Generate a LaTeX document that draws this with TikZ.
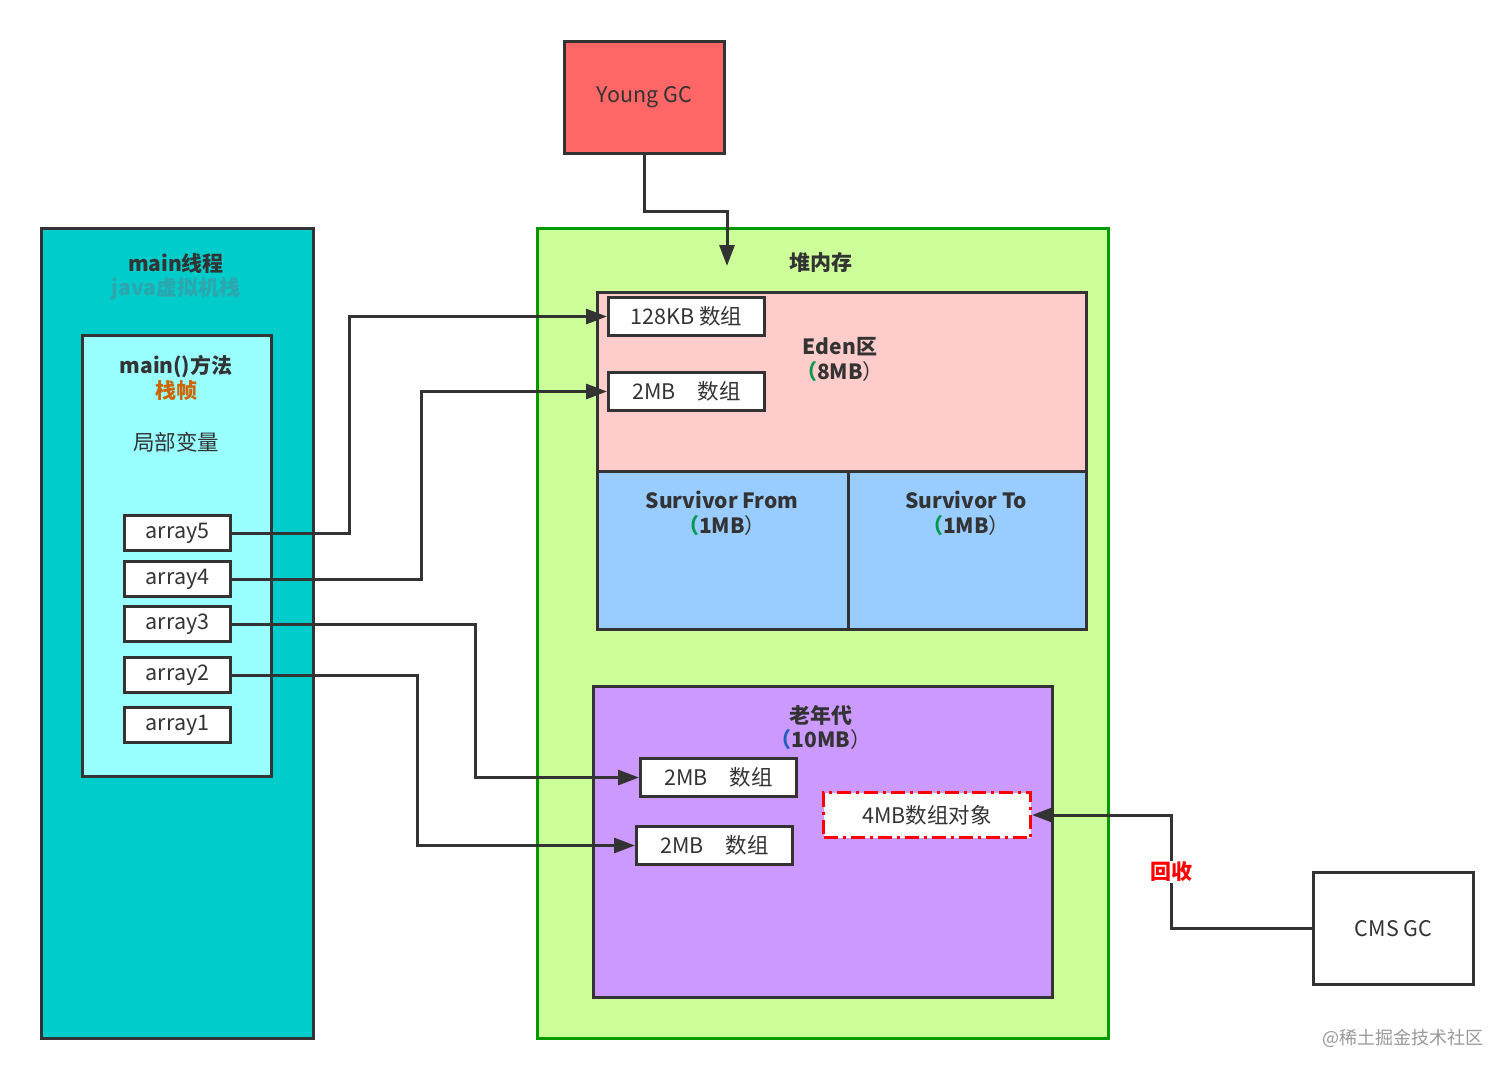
\documentclass[tikz,border=0pt]{standalone}
\usepackage{fontspec}
\setmainfont{Noto Sans CJK SC}
\usetikzlibrary{arrows.meta}
\definecolor{ln}{HTML}{333333}
\definecolor{ygcfill}{HTML}{FF6666}
\definecolor{heapfill}{HTML}{CCFF99}
\definecolor{heapline}{HTML}{009900}
\definecolor{edenfill}{HTML}{FFCCCC}
\definecolor{survfill}{HTML}{99CCFF}
\definecolor{oldfill}{HTML}{CC99FF}
\definecolor{stackfill}{HTML}{00CCCC}
\definecolor{framefill}{HTML}{99FFFF}
\definecolor{jvmtxt}{HTML}{2DA6AE}
\definecolor{orangetxt}{HTML}{CC6600}
\definecolor{greenp}{HTML}{00994D}
\definecolor{bluep}{HTML}{1F5FBF}
\definecolor{redline}{HTML}{FF0000}
\definecolor{wm}{HTML}{999999}
\tikzset{
  area/.style={draw=ln, line width=3pt, anchor=north west, inner sep=0pt},
  objbox/.style={draw=ln, line width=3pt, fill=white, anchor=north west, inner sep=0pt, text=ln},
  lbl/.style={text=ln, inner sep=1pt, align=center},
  bold/.style={font=\fontsize{21}{25}\selectfont\bfseries},
  conn/.style={draw=ln, line width=3pt, -{Triangle[length=21pt,width=15pt]}},
}
\begin{document}
\begin{tikzpicture}[x=1pt,y=-1pt,font=\fontsize{21.5}{25}\selectfont]
\useasboundingbox (0,0) rectangle (1512,1077);
\fill[white] (0,0) rectangle (1512,1077);

% Young GC
\node[area, fill=ygcfill, minimum width=160, minimum height=112, text=ln] (ygc) at (563,40) {Young GC};

% heap
\node[draw=heapline, line width=3pt, fill=heapfill, anchor=north west, inner sep=0pt, minimum width=571, minimum height=810] (heap) at (536,227) {};
\node[lbl, bold] (heapt) at (821,263) {堆内存};

% Eden
\node[area, fill=edenfill, minimum width=489, minimum height=179] (eden) at (596,291) {};
\node[lbl, bold] (edent) at (840,347) {Eden区};
\node[lbl, bold] (edens) at (840,372) {\textcolor{greenp}{（}8MB\textmd{）}};
\node[objbox, minimum width=156, minimum height=38] (e1) at (607,296) {128KB 数组};
\node[objbox, minimum width=156, minimum height=38] (e2) at (607,371) {2MB\quad 数组};

% Survivors
\node[area, fill=survfill, minimum width=251, minimum height=158] (sf) at (596,470) {};
\node[area, fill=survfill, minimum width=238, minimum height=158] (st) at (847,470) {};
\node[lbl, bold] (sft) at (722,500) {Survivor From};
\node[lbl, bold] (sfs) at (722,526) {\textcolor{greenp}{（}1MB\textmd{）}};
\node[lbl, bold] (stt) at (966,500) {Survivor To};
\node[lbl, bold] (sts) at (966,526) {\textcolor{greenp}{（}1MB\textmd{）}};

% Old gen
\node[area, fill=oldfill, minimum width=459, minimum height=311] (old) at (592,685) {};
\node[lbl, bold] (oldt) at (821,715) {老年代};
\node[lbl, bold] (olds) at (821,740) {\textcolor{bluep}{（}10MB\textmd{）}};
\node[objbox, minimum width=156, minimum height=38] (o1) at (639,757) {2MB\quad 数组};
\node[objbox, minimum width=156, minimum height=38] (o2) at (635,825) {2MB\quad 数组};
\node[draw=redline, line width=3pt, dash pattern=on 14pt off 5pt on 3pt off 5pt, fill=white, anchor=north west, minimum width=207, minimum height=45, inner sep=0pt, text=ln] (obj) at (822,791) {4MB数组对象};

% CMS GC
\node[objbox, minimum width=160, minimum height=112] (cms) at (1312,871) {CMS GC};

% Stack
\node[area, fill=stackfill, minimum width=272, minimum height=810] (stack) at (40,227) {};
\node[lbl, bold] (stackt) at (176,263) {main线程};
\node[lbl, bold, text=jvmtxt] (stacks) at (176,289) {java虚拟机栈};
\node[area, fill=framefill, minimum width=189, minimum height=441] (frame) at (81,334) {};
\node[lbl, bold] (framet) at (176,366) {main()方法};
\node[lbl, bold, text=orangetxt] (frames) at (176,391) {栈帧};
\node[lbl] (localt) at (176,442) {局部变量};
\node[objbox, minimum width=106, minimum height=35] (a5) at (123,514) {array5};
\node[objbox, minimum width=106, minimum height=35] (a4) at (123,560) {array4};
\node[objbox, minimum width=106, minimum height=35] (a3) at (123,605) {array3};
\node[objbox, minimum width=106, minimum height=35] (a2) at (123,656) {array2};
\node[objbox, minimum width=106, minimum height=35] (a1) at (123,706) {array1};

% connectors
\coordinate (ygcEnd) at (727,266);
\draw[conn] (ygc.south) -- ++(0,56) -| (ygcEnd);
\draw[conn] (a5.east) -- ++(117,0) |- (e1.west);
\draw[conn] (a4.east) -- ++(189,0) |- (e2.west);
\draw[conn] (a3.east) -- ++(243,0) |- (o1.west);
\draw[conn] (a2.east) -- ++(185,0) |- (o2.west);
\draw[conn] (cms.west) -- ++(-141,0) |- (obj.east);
\node[text=redline, fill=white, inner sep=1pt, bold] (recl) at (1171,872) {回收};

% watermark
\node[text=wm, font=\fontsize{18}{20}\selectfont] (wmk) at (1403,1038) {@稀土掘金技术社区};
\end{tikzpicture}
\end{document}
